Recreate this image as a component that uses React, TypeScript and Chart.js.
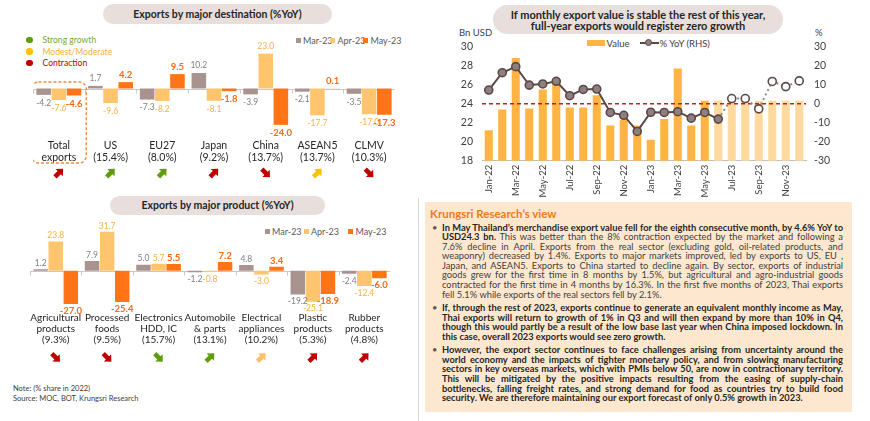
import React, { useEffect, useRef } from 'react';
import { Chart, registerables } from 'chart.js';

Chart.register(...registerables);

const FONT = 'Lato, "Open Sans", "DejaVu Sans", sans-serif';
Chart.defaults.font.family = FONT;

// ---------------- data ----------------
const seriesLabels = ['Mar-23', 'Apr-23', 'May-23'];

const destinationLabels = [
  ['Total', 'exports'],
  ['US', '(15.4%)'],
  ['EU27', '(8.0%)'],
  ['Japan', '(9.2%)'],
  ['China', '(13.7%)'],
  ['ASEAN5', '(13.7%)'],
  ['CLMV', '(10.3%)'],
];
const destinationMar23 = [-4.2, 1.7, -7.3, 10.2, -3.9, -2.1, -3.5];
const destinationApr23 = [-7.6, -9.6, -8.2, -8.1, 23.0, -17.7, -17.0];
const destinationMay23 = [-4.6, 4.2, 9.5, -1.8, -24.0, 0.1, -17.3];
const destinationTrend = ['up', 'up', 'up', 'up', 'down', 'up', 'down'];
const destinationStatus = ['contraction', 'strong', 'strong', 'contraction', 'contraction', 'moderate', 'contraction'];

const productLabels = [
  ['Agricultural', 'products', '(9.3%)'],
  ['Processed', 'foods', '(9.5%)'],
  ['Electronics', 'HDD, IC', '(15.7%)'],
  ['Automobile', '& parts', '(13.1%)'],
  ['Electrical', 'appliances', '(10.2%)'],
  ['Plastic', 'products', '(5.3%)'],
  ['Rubber', 'products', '(4.8%)'],
];
const productMar23 = [1.2, 7.9, 5.0, -1.2, 4.8, -19.2, -2.4];
const productApr23 = [23.8, 31.7, 5.7, -0.8, -3.0, -25.1, -12.4];
const productMay23 = [-27.0, -25.4, 5.5, 7.2, 3.4, -18.9, -6.0];
const productTrend = ['down', 'down', 'down', 'up', 'up', 'up', 'up'];
const productStatus = ['contraction', 'contraction', 'strong', 'strong', 'mild', 'contraction', 'contraction'];

const months = [
  'Jan-22', 'Feb-22', 'Mar-22', 'Apr-22', 'May-22', 'Jun-22', 'Jul-22', 'Aug-22', 'Sep-22', 'Oct-22', 'Nov-22', 'Dec-22',
  'Jan-23', 'Feb-23', 'Mar-23', 'Apr-23', 'May-23', 'Jun-23', 'Jul-23', 'Aug-23', 'Sep-23', 'Oct-23', 'Nov-23', 'Dec-23',
];
const exportValueBn = [
  21.2, 23.4, 28.8, 23.5, 25.5, 26.5, 23.6, 23.6, 24.9, 21.7, 22.3, 21.7,
  20.2, 22.4, 27.7, 21.7, 24.3, 24.3, 24.3, 24.3, 24.3, 24.3, 24.3, 24.3,
];
const exportYoY = [
  7.2, 16.3, 19.5, 9.8, 10.4, 11.8, 4.2, 7.5, 7.7, -4.6, -6.1, -14.6,
  -4.5, -4.6, -4.2, -7.6, -4.6, -8.1, 2.7, 2.7, -2.7, 11.7, 9.0, 12.0,
];
const lastActualValueMonth = 'May-23';
const lastSolidYoYMonth = 'Jun-23';
const shownMonthTicks = ['Jan-22', 'Mar-22', 'May-22', 'Jul-22', 'Sep-22', 'Nov-22', 'Jan-23', 'Mar-23', 'May-23', 'Jul-23', 'Sep-23', 'Nov-23'];
const valueTicksStep = 2;
const yoyTicksStep = 10;
const zeroGrowthValueBn = 24;

// ---------------- styles ----------------
const MAR_COLOR = '#a8938f';
const APR_COLOR = '#ffc46e';
const MAY_COLOR = '#ff7416';
const LABEL_COLORS = ['#7f7f7f', '#f7b04c', '#fa6a10'];
const STATUS_COLORS: any = {
  strong: '#5e9b0d',
  moderate: '#ffc000',
  mild: '#ffc06a',
  contraction: '#c00000',
};

function drawArrow(ctx: any, cx: number, cy: number, dir: string, color: string) {
  ctx.save();
  ctx.translate(cx, cy);
  ctx.rotate(dir === 'up' ? -Math.PI / 4 : Math.PI / 4);
  ctx.fillStyle = color;
  ctx.beginPath();
  ctx.moveTo(-5.5, -2.3);
  ctx.lineTo(0.5, -2.3);
  ctx.lineTo(0.5, -5.2);
  ctx.lineTo(6, 0);
  ctx.lineTo(0.5, 5.2);
  ctx.lineTo(0.5, 2.3);
  ctx.lineTo(-5.5, 2.3);
  ctx.closePath();
  ctx.fill();
  ctx.restore();
}

function groupedBarExtras(opts: any) {
  return {
    id: 'groupedBarExtras',
    beforeDatasetsDraw(chart: any) {
      const { ctx, chartArea, scales } = chart;
      const y0 = Math.round(scales.y.getPixelForValue(0)) + 0.5;
      const n = chart.data.labels.length;
      const w = (chartArea.right - chartArea.left) / n;
      ctx.save();
      ctx.strokeStyle = '#c8c8c8';
      ctx.lineWidth = 1;
      ctx.beginPath();
      ctx.moveTo(chartArea.left, y0);
      ctx.lineTo(chartArea.right, y0);
      for (let i = 0; i <= n; i++) {
        const x = Math.round(chartArea.left + i * w) + 0.5;
        ctx.moveTo(x, y0);
        ctx.lineTo(x, y0 + 4);
      }
      ctx.stroke();
      ctx.restore();
    },
    afterDatasetsDraw(chart: any) {
      const ctx = chart.ctx;
      ctx.save();
      ctx.textAlign = 'center';
      ctx.textBaseline = 'middle';
      chart.data.datasets.forEach((ds: any, di: number) => {
        const meta = chart.getDatasetMeta(di);
        ctx.font = opts.labelFonts[di];
        ctx.fillStyle = LABEL_COLORS[di];
        meta.data.forEach((el: any, i: number) => {
          const v = ds.data[i];
          const y = v >= 0 ? el.y - opts.above : el.y + opts.below;
          ctx.fillText(v.toFixed(1), el.x, y);
        });
      });
      ctx.restore();
    },
    afterDraw(chart: any) {
      const { ctx, chartArea, scales } = chart;
      const n = chart.data.labels.length;
      const w = (chartArea.right - chartArea.left) / n;
      opts.trend.forEach((t: string, i: number) => {
        drawArrow(ctx, scales.x.getPixelForValue(i), chartArea.bottom + opts.arrowGap, t, STATUS_COLORS[opts.status[i]]);
      });
      if (opts.highlightFirst) {
        const cx = scales.x.getPixelForValue(0);
        const y0 = scales.y.getPixelForValue(0);
        const left = cx - w * 0.53;
        const top = y0 - 6.5;
        const bottom = chartArea.bottom + 26;
        ctx.save();
        ctx.strokeStyle = '#f58a3a';
        ctx.lineWidth = 1.4;
        ctx.setLineDash([3, 2]);
        ctx.beginPath();
        ctx.roundRect(left, top, w * 1.06, bottom - top, 7);
        ctx.stroke();
        ctx.restore();
      }
    },
  };
}

function groupedBarConfig(labels: any, series: number[][], yMin: number, yMax: number, axisHeight: number, fontSize: number, padTop: number, extras: any) {
  return {
    type: 'bar',
    data: {
      labels,
      datasets: series.map((d, i) => ({
        label: seriesLabels[i],
        data: d,
        backgroundColor: [MAR_COLOR, APR_COLOR, MAY_COLOR][i],
        categoryPercentage: 0.88,
        barPercentage: 0.96,
      })),
    },
    options: {
      animation: false,
      responsive: false,
      layout: { padding: { left: 0, right: 0, top: padTop, bottom: 22 } },
      plugins: { legend: { display: false }, tooltip: { enabled: false } },
      scales: {
        x: {
          grid: { display: false, drawTicks: false },
          border: { display: false },
          ticks: {
            autoSkip: false,
            maxRotation: 0,
            color: '#262626',
            padding: 3,
            font: { family: FONT, size: fontSize, lineHeight: 1.13 },
          },
          afterFit: (s: any) => {
            s.height = axisHeight;
            s.paddingLeft = 0;
            s.paddingRight = 0;
          },
        },
        y: { display: false, min: yMin, max: yMax },
      },
    },
    plugins: [groupedBarExtras(extras)],
  };
}

const refLinePlugin = {
  id: 'refLine',
  beforeDatasetDraw(chart: any, args: any) {
    if (args.index !== 0) return;
    const { ctx, chartArea, scales } = chart;
    const y = scales.y.getPixelForValue(zeroGrowthValueBn);
    ctx.save();
    ctx.strokeStyle = '#c81e1e';
    ctx.lineWidth = 1.5;
    ctx.setLineDash([4, 3]);
    ctx.beginPath();
    ctx.moveTo(chartArea.left, y);
    ctx.lineTo(chartArea.right, y);
    ctx.stroke();
    ctx.restore();
  },
};

function monthlyConfig() {
  const actualIdx = months.indexOf(lastActualValueMonth);
  const solidIdx = months.indexOf(lastSolidYoYMonth);
  return {
    type: 'bar',
    data: {
      labels: months,
      datasets: [
        {
          type: 'line',
          label: '% YoY (RHS)',
          data: exportYoY,
          yAxisID: 'y1',
          order: 0,
          borderColor: '#5a4848',
          borderWidth: 2,
          pointRadius: 4,
          pointBorderWidth: 1.6,
          pointBorderColor: '#5a4848',
          pointBackgroundColor: months.map((_, i) => (i > solidIdx ? '#ffffff' : '#8f7f7f')),
          segment: {
            borderDash: (c: any) => (c.p0DataIndex >= solidIdx ? [2, 3] : undefined),
            borderColor: (c: any) => (c.p0DataIndex >= solidIdx ? '#8a8a8a' : '#5a4848'),
          },
        },
        {
          type: 'bar',
          label: 'Value',
          data: exportValueBn,
          yAxisID: 'y',
          order: 1,
          backgroundColor: months.map((_, i) => (i > actualIdx ? '#ffd99e' : '#ffb444')),
          categoryPercentage: 1,
          barPercentage: 0.6,
        },
      ],
    },
    options: {
      animation: false,
      responsive: false,
      layout: { padding: { top: 16.7, left: 0, right: 0, bottom: 0 } },
      plugins: { legend: { display: false }, tooltip: { enabled: false } },
      scales: {
        x: {
          grid: { display: false, drawTicks: false },
          border: { display: true, color: '#bfbfbf', width: 1 },
          ticks: {
            autoSkip: false,
            minRotation: 90,
            maxRotation: 90,
            padding: 4,
            color: '#404040',
            font: { family: FONT, size: 9.5 },
            callback: (_v: any, i: number) => (shownMonthTicks.includes(months[i]) ? months[i] : ''),
          },
          afterFit: (s: any) => {
            s.height = 39.3;
            s.paddingLeft = 0;
            s.paddingRight = 0;
          },
        },
        y: {
          position: 'left',
          min: 18,
          max: 30,
          grid: { display: false, drawTicks: false },
          border: { display: false },
          ticks: { stepSize: valueTicksStep, padding: 9, color: '#404040', font: { family: FONT, size: 10.5 } },
          afterFit: (s: any) => {
            s.width = 42;
          },
        },
        y1: {
          position: 'right',
          min: -30,
          max: 30,
          grid: { display: false, drawTicks: false },
          border: { display: false },
          ticks: { stepSize: yoyTicksStep, padding: 8, color: '#404040', font: { family: FONT, size: 10.5 } },
          afterFit: (s: any) => {
            s.width = 44;
          },
        },
      },
    },
    plugins: [refLinePlugin],
  };
}

// ---------------- components ----------------
const abs = (s: any) => ({ position: 'absolute', ...s });

function Pill({ left, top, width, height, size, children }: any) {
  return (
    <div
      style={abs({
        left,
        top,
        width,
        height,
        borderRadius: height / 2,
        background: '#e8dedc',
        display: 'flex',
        alignItems: 'center',
        justifyContent: 'center',
        textAlign: 'center',
        fontWeight: 700,
        fontSize: size,
        lineHeight: '11px',
        color: '#262626',
      })}
    >
      <div>{children}</div>
    </div>
  );
}

function SeriesLegend({ top, xs }: any) {
  const colors = [MAR_COLOR, APR_COLOR, MAY_COLOR];
  return (
    <>
      {seriesLabels.map((s, i) => (
        <div key={s} style={abs({ left: xs[i], top: top - 6, height: 12, display: 'flex', alignItems: 'center', fontSize: 9, color: '#595959', whiteSpace: 'nowrap' })}>
          <span style={{ display: 'inline-block', width: 5, height: 5, background: colors[i], marginRight: 2.5 }} />
          {s}
        </div>
      ))}
    </>
  );
}

const statusLegend = [
  { key: 'strong', text: 'Strong growth', color: '#72a833' },
  { key: 'moderate', text: 'Modest/Moderate', color: '#f9b233' },
  { key: 'contraction', text: 'Contraction', color: '#c00000' },
];

export default function App() {
  const c1 = useRef<HTMLCanvasElement>(null);
  const c2 = useRef<HTMLCanvasElement>(null);
  const c3 = useRef<HTMLCanvasElement>(null);

  useEffect(() => {
    const charts: any[] = [];
    if (c1.current) {
      charts.push(
        new Chart(
          c1.current,
          groupedBarConfig(destinationLabels, [destinationMar23, destinationApr23, destinationMay23], -32, 32, 30, 10.5, 0, {
            labelFonts: [`8.5px ${FONT}`, `8.5px ${FONT}`, `bold 9.5px ${FONT}`],
            above: 7.5,
            below: 8,
            trend: destinationTrend,
            status: destinationStatus,
            arrowGap: 36,
            highlightFirst: true,
          }) as any
        )
      );
    }
    if (c2.current) {
      charts.push(
        new Chart(
          c2.current,
          groupedBarConfig(productLabels, [productMar23, productApr23, productMay23], -31, 37, 36, 10, 10.3, {
            labelFonts: [`8.5px ${FONT}`, `8.5px ${FONT}`, `bold 9.5px ${FONT}`],
            above: 6,
            below: 7,
            trend: productTrend,
            status: productStatus,
            arrowGap: 48.5,
            highlightFirst: false,
          }) as any
        )
      );
    }
    if (c3.current) {
      charts.push(new Chart(c3.current, monthlyConfig() as any));
    }
    return () => charts.forEach((c) => c.destroy());
  }, []);

  return (
    <div style={{ position: 'fixed', left: 0, top: 0, width: 870, height: 421, background: '#ffffff', fontFamily: FONT, overflow: 'hidden' }}>
      {/* ---------- destination chart ---------- */}
      <Pill left={103} top={4} width={229} height={20} size={10.5}>
        Exports by major destination (%YoY)
      </Pill>
      {statusLegend.map((s, i) => (
        <div key={s.key} style={abs({ left: 26, top: 34.5 + i * 11.6, height: 11, display: 'flex', alignItems: 'center', fontSize: 8.6, color: s.color, whiteSpace: 'nowrap' })}>
          <span style={{ display: 'inline-block', width: 6.5, height: 6.5, borderRadius: '50%', background: STATUS_COLORS[s.key], marginRight: 10 }} />
          {s.text}
        </div>
      ))}
      <SeriesLegend top={40} xs={[295.5, 330, 363]} />
      <canvas ref={c1} width={362} height={149} style={abs({ left: 33, top: 40 })} />

      {/* ---------- product chart ---------- */}
      <Pill left={110} top={196} width={215} height={19} size={10.5}>
        Exports by major product (%YoY)
      </Pill>
      <SeriesLegend top={231} xs={[264.5, 303.5, 348]} />
      <canvas ref={c2} width={360} height={152} style={abs({ left: 30, top: 215 })} />

      <div style={abs({ left: 13, top: 384, fontSize: 7.5, lineHeight: '10px', color: '#404040', whiteSpace: 'nowrap' })}>
        Note: (% share in 2022)
        <br />
        Source: MOC, BOT, Krungsri Research
      </div>
      <div style={abs({ left: 418, top: 198, width: 1, height: 223, background: '#d6d6d6' })} />

      {/* ---------- monthly chart ---------- */}
      <Pill left={493} top={5} width={290} height={29} size={11}>
        If monthly export value is stable the rest of this year,
        <br />
        full-year exports would register zero growth
      </Pill>
      <div style={abs({ left: 459, top: 27, fontSize: 9.5, color: '#404040' })}>Bn USD</div>
      <div style={abs({ left: 815, top: 27, fontSize: 9.5, color: '#404040' })}>%</div>
      <div style={abs({ left: 586.5, top: 37, height: 12, display: 'flex', alignItems: 'center', fontSize: 9.5, color: '#404040', whiteSpace: 'nowrap' })}>
        <span style={{ display: 'inline-block', width: 18, height: 6.5, background: '#ffb444', marginRight: 2 }} />
        Value
        <span style={{ position: 'relative', display: 'inline-block', width: 19, height: 12, marginLeft: 10, marginRight: 1 }}>
          <span style={{ position: 'absolute', left: 0, top: 5, width: 19, height: 2, background: '#5a4848' }} />
          <span style={{ position: 'absolute', left: 5.5, top: 2, width: 5, height: 5, borderRadius: '50%', background: '#8f7f7f', border: '1.5px solid #5a4848' }} />
        </span>
        % YoY (RHS)
      </div>
      <canvas ref={c3} width={410} height={170} style={abs({ left: 440, top: 30 })} />

      {/* ---------- text box ---------- */}
      <div style={abs({ left: 425, top: 202, width: 427, height: 210, background: '#fde8cf' })}>
        <div style={abs({ left: 5, top: 5, fontSize: 11.5, fontWeight: 700, color: '#f07a1a', whiteSpace: 'nowrap' })}>Krungsri Research’s view</div>
        <div style={abs({ left: 17, top: 20.5, width: 401, fontSize: 9.3, lineHeight: '9.6px', color: '#262626', textAlign: 'justify' })}>
          <div style={{ position: 'relative', marginBottom: 3.8 }}>
            <span style={abs({ left: -10, top: 0, color: '#595959' })}>•</span>
            <b>In May Thailand’s merchandise export value fell for the eighth consecutive month, by 4.6% YoY to USD24.3 bn.</b>
            <span style={{ color: '#404040' }}>
              {' '}This was better than the 8% contraction expected by the market and following a 7.6% decline in April. Exports from the real sector (excluding gold, oil-related products, and weaponry) decreased by 1.4%. Exports to major markets improved, led by exports to US, EU , Japan, and ASEAN5. Exports to China started to decline again. By sector, exports of industrial goods grew for the first time in 8 months by 1.5%, but agricultural and agro-industrial goods contracted for the first time in 4 months by 16.3%. In the first five months of 2023, Thai exports fell 5.1% while exports of the real sectors fell by 2.1%.
            </span>
          </div>
          <div style={{ position: 'relative', marginBottom: 3.8, fontWeight: 700 }}>
            <span style={abs({ left: -10, top: 0, color: '#595959', fontWeight: 400 })}>•</span>
            If, through the rest of 2023, exports continue to generate an equivalent monthly income as May, Thai exports will return to growth of 1% in Q3 and will then expand by more than 10% in Q4, though this would partly be a result of the low base last year when China imposed lockdown. In this case, overall 2023 exports would see zero growth.
          </div>
          <div style={{ position: 'relative', fontWeight: 700 }}>
            <span style={abs({ left: -10, top: 0, color: '#595959', fontWeight: 400 })}>•</span>
            However, the export sector continues to face challenges arising from uncertainty around the world economy and the impacts of tighter monetary policy, and from slowing manufacturing sectors in key overseas markets, which with PMIs below 50, are now in contractionary territory. This will be mitigated by the positive impacts resulting from the easing of supply-chain bottlenecks, falling freight rates, and strong demand for food as countries try to build food security. We are therefore maintaining our export forecast of only 0.5% growth in 2023.
          </div>
        </div>
      </div>
    </div>
  );
}
